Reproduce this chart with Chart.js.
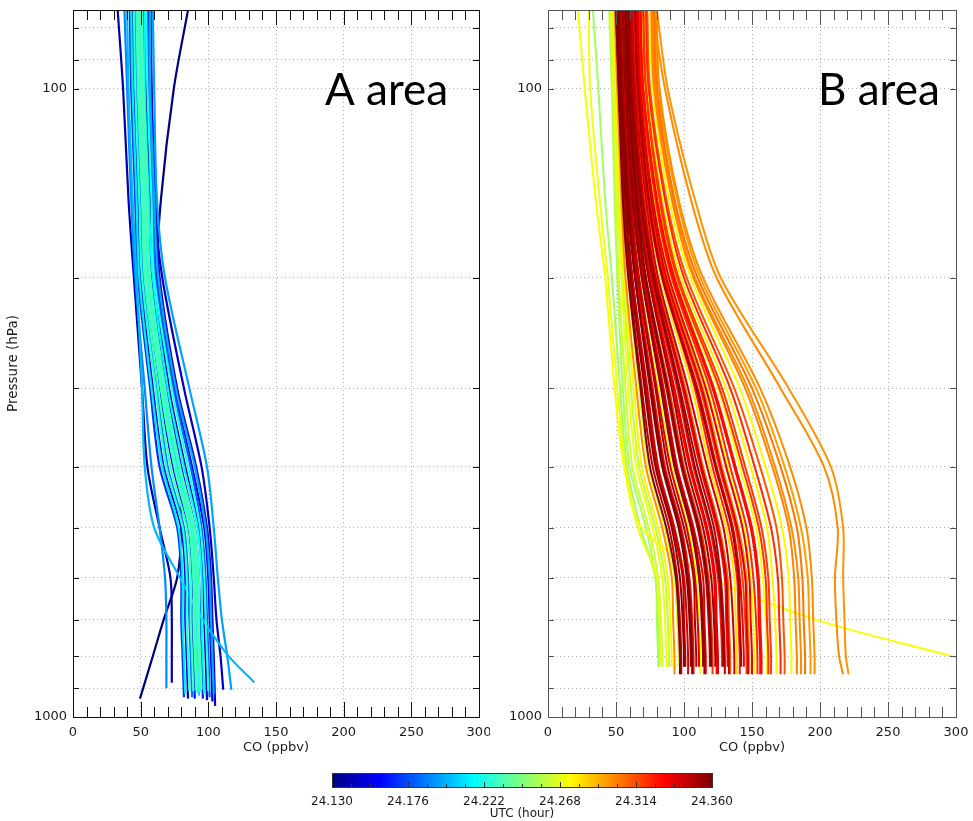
<!DOCTYPE html>
<html>
<head>
<meta charset="utf-8">
<script src="https://cdn.jsdelivr.net/npm/chart.js@4.4.1/dist/chart.umd.min.js"></script>
<style>
  body { margin: 0; background: #fff; width: 973px; height: 821px; position: relative; overflow: hidden; }
  canvas { position: absolute; }
  #panelA { left: 0; top: 0; }
  #panelB { left: 480px; top: 0; }
  #colorbar { left: 300px; top: 760px; }
</style>
</head>
<body>
<canvas id="panelA" width="490" height="760"></canvas>
<canvas id="panelB" width="493" height="760"></canvas>
<canvas id="colorbar" width="450" height="61"></canvas>
<script>
// pressure levels (hPa) of each profile; the last value of a profile sits at its own bottom pressure
const pressureLevels = [75, 100, 150, 200, 300, 400, 500, 600, 700, 800];
const pressureTicks = [80, 90, 100, 200, 300, 400, 500, 600, 700, 800, 900, 1000];
const pressureLabels = [100, 1000];
const utcTicks = [24.130, 24.176, 24.222, 24.268, 24.314, 24.360];
const utcMin = 24.130;
const utcMax = 24.360;

// A area: CO (ppbv) profiles
const aTimes = [
  24.130, 24.140, 24.200, 24.190, 24.195, 24.145,
  24.170, 24.212, 24.150, 24.226, 24.185, 24.230, 24.160, 24.232, 24.222, 24.228, 24.205,
  24.226, 24.230, 24.232, 24.165, 24.215, 24.140, 24.224, 24.180, 24.155, 24.198, 24.150
];
const aBottoms = [
  935, 882, 881, 900, 905, 905,
  930, 920, 935, 910, 930, 910, 935, 905, 915, 910, 925,
  910, 910, 905, 935, 920, 940, 910, 930, 945, 920, 960
];
const aProfiles = [
  [85, 74.5, 65, 62, 70, 78, 80, 77, 67, 59, 49.5],
  [33, 37, 41, 45, 51, 55, 64, 72, 73, 73, 73],
  [40, 41, 44, 47, 51, 53, 60, 79, 96, 115, 134],
  [38, 40, 43, 46, 53, 58, 64, 68, 69, 69, 69],
  [59, 60, 62, 68, 86, 99, 104, 107, 110, 114, 117],
  [57, 58, 60, 66, 82, 95, 101, 104, 106, 109, 111],
  [42, 43, 46, 48, 57, 64, 77, 80, 80, 81, 82],
  [43, 44, 47, 49, 58, 66, 78, 81, 81, 82, 83],
  [44, 45, 48, 50, 59, 67, 80, 83, 83, 84, 85],
  [45, 46, 49, 51, 61, 69, 81, 84, 84, 85, 86],
  [46, 47, 50, 52, 62, 70, 82, 85, 86, 87, 88],
  [47, 48, 51, 53, 63, 72, 84, 87, 87, 88, 89],
  [48, 48, 51, 54, 64, 74, 85, 88, 88, 89, 90],
  [48, 49, 52, 54, 65, 75, 86, 89, 89, 90, 91],
  [49, 49, 52, 55, 65, 75, 86, 89, 90, 91, 92],
  [49, 50, 53, 55, 66, 76, 87, 90, 90, 91, 92],
  [50, 50, 53, 56, 67, 77, 88, 91, 91, 92, 93],
  [50, 51, 54, 56, 67, 78, 88, 91, 92, 93, 94],
  [51, 51, 54, 57, 68, 79, 89, 92, 92, 93, 94],
  [51, 52, 55, 57, 68, 79, 90, 93, 93, 94, 95],
  [52, 52, 55, 58, 69, 80, 90, 93, 94, 95, 96],
  [53, 53, 56, 59, 70, 82, 92, 95, 95, 96, 97],
  [54, 54, 57, 60, 71, 83, 93, 96, 97, 98, 99],
  [54, 55, 58, 60, 73, 85, 94, 97, 98, 99, 100],
  [55, 56, 59, 61, 74, 87, 95, 98, 99, 100, 101],
  [56, 57, 60, 62, 75, 88, 97, 100, 101, 102, 103],
  [57, 57, 60, 63, 76, 90, 98, 101, 102, 103, 104],
  [58, 58, 61, 64, 77, 91, 99, 102, 103, 104, 105]
];

// B area: CO (ppbv) profiles
const bTimes = [
  24.255, 24.262, 24.270, 24.258, 24.276, 24.300, 24.266, 24.345, 24.356, 24.340, 24.358,
  24.330, 24.350, 24.274, 24.355, 24.336, 24.346, 24.320, 24.352, 24.338, 24.326, 24.348,
  24.330, 24.310, 24.342, 24.280, 24.325, 24.335, 24.318, 24.300, 24.335, 24.322, 24.328,
  24.272, 24.318, 24.276, 24.322, 24.312, 24.275, 24.302, 24.305, 24.300,
  24.300, 24.298, 24.272, 24.270, 24.252,
  24.360, 24.344, 24.357, 24.339, 24.353, 24.360, 24.332, 24.356, 24.345, 24.352, 24.340,
  24.270, 24.330, 24.320, 24.300, 24.296
];
const bBottoms = [
  832, 832, 832, 832, 832, 855, 832, 855, 832, 855, 832,
  855, 832, 855, 832, 855, 832, 855, 832, 855, 832, 855,
  832, 855, 855, 855, 855, 832, 855, 855, 855, 855, 855,
  855, 855, 855, 855, 855, 855, 855, 855, 855,
  855, 855, 803, 832, 832,
  855, 832, 855, 832, 855, 832, 855, 832, 855, 832, 855,
  855, 855, 855, 855, 855
];
const bProfiles = [
  [45, 47, 49, 51, 55, 60, 72, 79, 81, 82, 82],
  [46, 48, 50, 52, 57, 62, 74, 81, 83, 84, 84],
  [46, 48, 51, 54, 59, 65, 77, 84, 86, 87, 87],
  [47, 49, 52, 55, 61, 67, 79, 86, 88, 89, 89],
  [48, 50, 53, 56, 63, 69, 81, 88, 90, 91, 91],
  [49, 51, 54, 57, 65, 72, 84, 91, 92, 93, 93],
  [49, 51, 55, 59, 67, 74, 86, 93, 95, 96, 96],
  [50, 52, 56, 60, 69, 77, 89, 95, 97, 98, 98],
  [51, 53, 57, 61, 71, 79, 91, 97, 99, 100, 100],
  [51, 53, 57, 62, 73, 81, 93, 100, 102, 103, 103],
  [52, 54, 58, 64, 75, 84, 96, 102, 104, 105, 105],
  [53, 55, 59, 65, 77, 86, 98, 104, 106, 107, 107],
  [53, 55, 60, 66, 79, 88, 100, 107, 108, 109, 109],
  [54, 56, 61, 67, 81, 91, 103, 109, 111, 112, 112],
  [55, 57, 62, 69, 83, 93, 105, 111, 113, 114, 114],
  [56, 58, 63, 70, 85, 95, 107, 114, 115, 116, 116],
  [56, 58, 64, 71, 87, 98, 110, 116, 118, 119, 119],
  [57, 59, 65, 72, 89, 100, 112, 118, 120, 121, 121],
  [58, 60, 66, 74, 91, 102, 114, 120, 122, 123, 123],
  [58, 60, 67, 75, 93, 105, 117, 123, 124, 125, 125],
  [59, 61, 68, 76, 95, 107, 119, 125, 127, 128, 128],
  [60, 62, 69, 78, 97, 110, 122, 127, 129, 130, 130],
  [60, 62, 70, 79, 99, 112, 124, 130, 131, 132, 132],
  [61, 63, 71, 80, 101, 114, 126, 132, 133, 134, 134],
  [62, 64, 72, 81, 103, 117, 129, 134, 136, 137, 137],
  [63, 65, 73, 83, 106, 119, 131, 137, 138, 139, 139],
  [63, 65, 73, 84, 108, 121, 133, 139, 140, 141, 141],
  [64, 66, 74, 85, 110, 124, 136, 141, 143, 144, 144],
  [65, 67, 75, 86, 112, 126, 138, 143, 145, 146, 146],
  [65, 67, 76, 88, 114, 128, 140, 146, 147, 148, 148],
  [66, 68, 77, 89, 116, 131, 143, 148, 149, 150, 150],
  [67, 69, 79, 91, 119, 134, 146, 151, 153, 154, 154],
  [68, 70, 80, 93, 122, 138, 150, 155, 156, 157, 157],
  [69, 71, 81, 94, 125, 141, 153, 158, 160, 161, 161],
  [70, 72, 83, 96, 128, 145, 157, 162, 163, 164, 164],
  [71, 73, 84, 98, 131, 149, 161, 165, 167, 168, 168],
  [72, 74, 86, 100, 134, 152, 164, 169, 170, 171, 171],
  [73, 75, 87, 102, 137, 156, 168, 172, 173, 174, 174],
  [75, 77, 89, 105, 141, 160, 172, 177, 178, 179, 179],
  [76, 78, 91, 107, 145, 165, 177, 181, 182, 183, 183],
  [78, 80, 93, 110, 150, 171, 183, 187, 188, 189, 189],
  [80, 82, 96, 114, 156, 178, 190, 194, 195, 196, 196],
  [77, 86, 105, 124, 171, 203, 213, 211, 212, 214, 217],
  [80, 88, 108, 127, 177, 208, 217, 217, 218, 219, 221],
  [22, 27, 35, 42, 49, 56, 69, 120, 197, 297, 300],
  [30, 31, 38, 44, 51, 57, 66, 80, 82, 83, 84],
  [33, 37, 42, 47, 53, 58, 68, 79, 80, 81, 81],
  [50, 52, 55, 59, 68, 75, 87, 94, 96, 97, 97],
  [51, 53, 57, 62, 72, 80, 92, 99, 100, 101, 101],
  [52, 54, 59, 64, 76, 85, 97, 103, 105, 106, 106],
  [54, 56, 61, 67, 80, 90, 102, 108, 110, 111, 111],
  [55, 57, 63, 69, 84, 94, 106, 112, 114, 115, 115],
  [57, 59, 65, 72, 88, 99, 111, 117, 119, 120, 120],
  [58, 60, 66, 74, 92, 104, 116, 122, 123, 124, 124],
  [59, 61, 68, 77, 96, 108, 120, 126, 128, 129, 129],
  [61, 63, 70, 79, 100, 113, 125, 131, 132, 133, 133],
  [64, 66, 74, 84, 109, 123, 135, 140, 141, 142, 142],
  [65, 67, 76, 87, 113, 127, 139, 145, 146, 147, 147],
  [66, 68, 78, 89, 117, 132, 144, 149, 151, 152, 152],
  [68, 70, 80, 92, 121, 137, 149, 154, 155, 156, 156],
  [70, 72, 82, 95, 126, 143, 155, 160, 161, 162, 162],
  [77, 79, 92, 108, 147, 167, 179, 184, 185, 186, 186],
  [79, 81, 95, 112, 153, 174, 186, 191, 192, 193, 193]
];

Chart.defaults.font.family = "'DejaVu Sans', sans-serif";
Chart.defaults.font.size = 13;
Chart.defaults.color = '#1a1a1a';

// jet colour table over the UTC range
function jet(t) {
  const f = (t - utcMin) / (utcMax - utcMin);
  const c = k => Math.round(255 * Math.min(1, Math.max(0, 1.5 - Math.abs(4 * f - k))));
  return `rgb(${c(3)},${c(2)},${c(1)})`;
}

function profileSets(profiles, times, bottoms, width) {
  return profiles.map((vals, i) => ({
    data: vals.map((co, j) => ({ x: co, y: j < pressureLevels.length ? pressureLevels[j] : bottoms[i] })),
    borderColor: jet(times[i]),
    borderWidth: width,
    pointRadius: 0,
    showLine: true,
    tension: 0.3,
    // later profiles are drawn on top
    order: Math.round((utcMax - times[i]) * 10000)
  }));
}

// inward ticks, frame and the area label
const frameTicks = {
  id: 'frameTicks',
  afterDraw(chart, args, opts) {
    const { ctx, chartArea: a, scales: { x, y } } = chart;
    const seg = (x1, y1, x2, y2) => { ctx.beginPath(); ctx.moveTo(x1, y1); ctx.lineTo(x2, y2); ctx.stroke(); };
    ctx.save();
    ctx.strokeStyle = opts.color;
    ctx.lineWidth = 1;
    for (let v = 0; v <= 300; v += 10) {
      const px = Math.round(x.getPixelForValue(v)) + 0.5;
      const len = v % 50 === 0 ? 15 : 10;
      seg(px, a.bottom, px, a.bottom - len);
      seg(px, a.top, px, a.top + len);
    }
    pressureTicks.forEach(p => {
      const py = Math.round(y.getPixelForValue(p)) + 0.5;
      seg(a.left, py, a.left + 6, py);
      seg(a.right, py, a.right - 6, py);
    });
    ctx.strokeRect(Math.round(a.left) + 0.5, Math.round(a.top) + 0.5, Math.round(a.right - a.left), Math.round(a.bottom - a.top));
    ctx.fillStyle = '#000';
    ctx.font = "44px Lato, sans-serif";
    ctx.fillText(opts.label, opts.labelX, opts.labelY);
    ctx.restore();
  }
};

function panelOptions(showTitle, yWidth, padRight, frameColor, label, labelX) {
  return {
    responsive: false,
    animation: false,
    devicePixelRatio: 1,
    layout: { padding: { top: 10, right: padRight, left: 0, bottom: 0 } },
    plugins: {
      legend: { display: false },
      tooltip: { enabled: false },
      frameTicks: { color: frameColor, label: label, labelX: labelX, labelY: 105 }
    },
    scales: {
      x: {
        type: 'linear',
        min: 0,
        max: 300,
        afterFit: s => { s.height = 43; s.paddingLeft = 0; s.paddingRight = 0; },
        ticks: { stepSize: 50, padding: 8, maxRotation: 0, autoSkip: false },
        grid: { color: '#b4b4b4', drawTicks: false },
        border: { display: false, dash: [1, 3] },
        title: { display: true, text: 'CO (ppbv)', padding: { top: 0, bottom: 5 } }
      },
      y: {
        type: 'logarithmic',
        reverse: true,
        min: 75,
        max: 1000,
        afterFit: s => { s.width = yWidth; s.paddingTop = 0; s.paddingBottom = 0; },
        afterBuildTicks: s => { s.ticks = pressureTicks.map(v => ({ value: v })); },
        ticks: { autoSkip: false, padding: 6, callback: v => pressureLabels.includes(v) ? String(v) : '' },
        grid: { color: '#b4b4b4', drawTicks: false },
        border: { display: false, dash: [1, 3] },
        title: { display: showTitle, text: 'Pressure (hPa)', font: { size: 13.5 }, padding: { top: 5, bottom: 0 } }
      }
    }
  };
}

new Chart(document.getElementById('panelA'), {
  type: 'scatter',
  data: { datasets: profileSets(aProfiles, aTimes, aBottoms, 2.2) },
  options: panelOptions(true, 73, 11, '#111', 'A area', 325),
  plugins: [frameTicks]
});

new Chart(document.getElementById('panelB'), {
  type: 'scatter',
  data: { datasets: profileSets(bProfiles, bTimes, bBottoms, 2) },
  options: panelOptions(false, 68, 17, '#555', 'B area', 338),
  plugins: [frameTicks]
});

// colour bar with its own UTC axis
const colorBar = {
  id: 'colorBar',
  beforeDraw(chart) {
    const { ctx, chartArea: a } = chart;
    const grad = ctx.createLinearGradient(a.left, 0, a.right, 0);
    for (let i = 0; i <= 40; i++) {
      grad.addColorStop(i / 40, jet(utcMin + (utcMax - utcMin) * i / 40));
    }
    ctx.save();
    ctx.fillStyle = grad;
    ctx.fillRect(a.left, a.top, a.right - a.left, a.bottom - a.top);
    ctx.restore();
  },
  afterDraw(chart) {
    const { ctx, chartArea: a, scales: { x } } = chart;
    ctx.save();
    ctx.strokeStyle = '#333';
    ctx.lineWidth = 1;
    const step = (utcTicks[1] - utcTicks[0]) / 4;
    for (let i = 0; i <= 20; i++) {
      const px = Math.round(x.getPixelForValue(utcMin + step * i)) + 0.5;
      const len = i % 4 === 0 ? 5 : 3;
      ctx.beginPath();
      ctx.moveTo(px, a.bottom);
      ctx.lineTo(px, a.bottom - len);
      ctx.stroke();
    }
    ctx.strokeRect(Math.round(a.left) + 0.5, Math.round(a.top) + 0.5, Math.round(a.right - a.left), Math.round(a.bottom - a.top));
    ctx.restore();
  }
};

new Chart(document.getElementById('colorbar'), {
  type: 'scatter',
  data: { datasets: [] },
  options: {
    responsive: false,
    animation: false,
    devicePixelRatio: 1,
    layout: { padding: { top: 13, left: 32, right: 38, bottom: 0 } },
    plugins: { legend: { display: false }, tooltip: { enabled: false } },
    scales: {
      x: {
        type: 'linear',
        min: utcMin,
        max: utcMax,
        afterFit: s => { s.height = 34; s.paddingLeft = 0; s.paddingRight = 0; },
        afterBuildTicks: s => { s.ticks = utcTicks.map(v => ({ value: v })); },
        ticks: { font: { size: 12 }, padding: 0, maxRotation: 0, autoSkip: false, callback: v => v.toFixed(3) },
        grid: { display: false },
        border: { display: false },
        title: { display: true, text: 'UTC (hour)', font: { size: 12 }, padding: { top: 0, bottom: 0 } }
      },
      y: { display: false, min: 0, max: 1 }
    }
  },
  plugins: [colorBar]
});
</script>
</body>
</html>
